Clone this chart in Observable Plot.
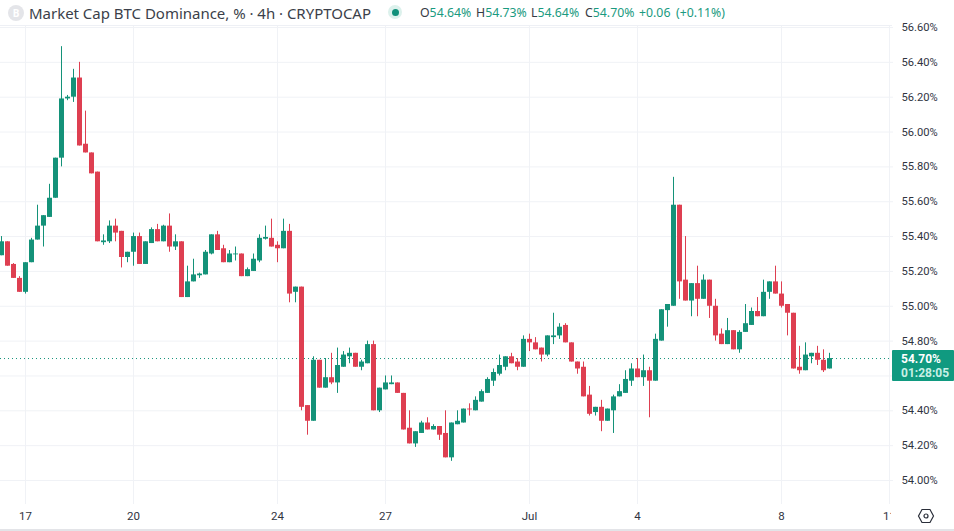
<!DOCTYPE html>
<html><head><meta charset="utf-8">
<script src="https://cdn.jsdelivr.net/npm/d3@7"></script>
<script src="https://cdn.jsdelivr.net/npm/@observablehq/plot@0.6"></script>
<style>
html,body{margin:0;padding:0;background:#fff;width:954px;height:531px;overflow:hidden;font-family:"Noto Sans",sans-serif}
#wrap{position:relative;width:954px;height:531px}
#hdr{position:relative;height:25px;width:892px;border-bottom:1px solid #eef0f5;box-sizing:content-box;color:#363a45;z-index:2}
#hdr span{position:absolute;white-space:nowrap;top:5px;font-size:12.3px;line-height:16px}
#hdr .t{left:29px;top:3px;font-size:15px;line-height:20px;color:#3b3f4a;letter-spacing:-.02px}
#hdr .v{color:#1a9a80}
#logo{position:absolute;left:8px;top:5px;width:16px;height:16px;border-radius:50%;background:#e4e5e9;color:#fff;font:bold 10px/16px "Noto Sans";text-align:center}
#halo{position:absolute;left:388px;top:5px;width:14px;height:14px;border-radius:50%;background:#dcf1ec}
#dot{position:absolute;left:391.5px;top:8.5px;width:7px;height:7px;border-radius:50%;background:#10907a}
#plot{position:absolute;left:0;top:16px}
#price{position:absolute;left:892px;top:350px;width:62px;height:31px;background:#109a80;color:#fff;font:bold 12px/14px Roboto;border-radius:1px}
#price div{padding-left:9px;padding-top:1.5px}
#price div+div{color:#c8f0e6;padding-top:0}
#corner{position:absolute;left:891px;top:505px;width:63px;height:24px;background:#fff}
#corner svg{position:absolute;left:25px;top:1px}
#foot{position:absolute;left:0;top:529px;width:954px;height:2px;background:#e3e4e8}
svg text{font-family:Roboto,sans-serif}
</style></head>
<body><div id="wrap">
<div id="hdr">
<div id="logo">B</div>
<span class="t">Market Cap BTC Dominance, % · 4h · CRYPTOCAP</span>
<div id="halo"></div><div id="dot"></div>
<span style="left:420px">O<b class="v" style="font-weight:400">54.64%</b></span>
<span style="left:476px">H<b class="v" style="font-weight:400">54.73%</b></span>
<span style="left:531px">L<b class="v" style="font-weight:400">54.64%</b></span>
<span style="left:585px">C<b class="v" style="font-weight:400">54.70%</b></span>
<span class="v" style="left:639px">+0.06</span>
<span class="v" style="left:676px">(+0.11%)</span>
</div>
<div id="plot"></div>
<div id="price"><div>54.70%</div><div>01:28:05</div></div>
<div id="corner"><svg width="20" height="20" viewBox="0 0 20 20" fill="none" stroke="#2a2e39" stroke-width="1.2"><path d="M6 3.5h8l3.5 6.5-3.5 6.5H6L2.5 10z"/><circle cx="10" cy="10" r="2"/></svg></div>
<div id="foot"></div>
</div>
<script>
const opens = [55.29,55.37,55.24,55.16,55.08,55.25,55.38,55.46,55.51,55.62,55.85,56.19,56.20,56.31,55.93,55.88,55.77,55.365,55.37,55.46,55.43,55.28,55.31,55.40,55.24,55.36,55.44,55.37,55.46,55.34,55.37,55.05,55.14,55.175,55.18,55.30,55.41,55.33,55.25,55.295,55.30,55.17,55.20,55.26,55.385,55.39,55.35,55.33,55.43,55.08,55.11,54.43,54.34,54.69,54.53,54.59,54.56,54.65,54.71,54.73,54.65,54.67,54.78,54.40,54.52,54.55,54.56,54.50,54.30,54.21,54.27,54.33,54.29,54.31,54.27,54.13,54.32,54.33,54.41,54.40,54.45,54.50,54.57,54.61,54.65,54.71,54.68,54.65,54.81,54.79,54.76,54.72,54.82,54.83,54.89,54.79,54.68,54.65,54.49,54.39,54.42,54.34,54.40,54.48,54.50,54.57,54.64,54.59,54.63,54.57,54.80,54.975,55.00,55.58,55.15,55.03,55.13,55.04,55.15,55.00,54.84,54.78,54.86,54.75,54.85,54.89,54.97,54.94,55.08,55.14,55.07,55.01,54.96,54.65,54.63,54.71,54.73,54.69,54.64];
const highs = [55.40,55.37,55.245,55.17,55.25,55.39,55.58,55.52,55.70,55.85,56.49,56.21,56.36,56.40,56.12,55.88,55.77,55.41,55.49,55.50,55.43,55.31,55.42,55.42,55.37,55.45,55.47,55.465,55.53,55.41,55.37,55.23,55.27,55.19,55.32,55.41,55.43,55.35,55.32,55.34,55.30,55.22,55.30,55.41,55.46,55.50,55.37,55.50,55.47,55.11,55.11,54.43,54.71,54.69,54.70,54.73,54.76,54.74,54.76,54.73,54.69,54.80,54.80,54.53,54.60,54.60,54.56,54.50,54.40,54.28,54.34,54.36,54.32,54.31,54.40,54.33,54.40,54.41,54.44,54.48,54.52,54.59,54.64,54.72,54.71,54.73,54.70,54.83,54.84,54.82,54.76,54.83,54.96,54.90,54.90,54.79,54.68,54.68,54.54,54.42,54.46,54.41,54.49,54.55,54.63,54.67,54.70,54.72,54.65,54.84,54.98,55.01,55.74,55.58,55.40,55.13,55.23,55.18,55.15,55.04,54.87,54.93,54.86,54.86,55.01,54.99,55.05,55.15,55.14,55.23,55.14,55.01,54.96,54.77,54.79,54.73,54.77,54.75,54.73];
const lows = [55.29,55.23,55.16,55.08,55.07,55.25,55.38,55.34,55.51,55.62,55.80,56.18,56.17,55.92,55.88,55.76,55.37,55.35,55.36,55.37,55.22,55.25,55.23,55.24,55.24,55.36,55.37,55.37,55.31,55.32,55.05,55.05,55.14,55.16,55.18,55.295,55.32,55.25,55.25,55.26,55.17,55.17,55.20,55.25,55.38,55.34,55.25,55.33,55.02,55.02,54.40,54.26,54.34,54.53,54.53,54.55,54.50,54.65,54.67,54.65,54.63,54.67,54.40,54.39,54.52,54.55,54.50,54.29,54.21,54.19,54.27,54.29,54.29,54.23,54.13,54.11,54.32,54.33,54.37,54.40,54.45,54.50,54.54,54.60,54.63,54.67,54.63,54.65,54.74,54.75,54.68,54.71,54.78,54.81,54.79,54.68,54.61,54.48,54.37,54.37,54.28,54.34,54.27,54.48,54.50,54.54,54.59,54.54,54.36,54.57,54.80,54.88,55.00,55.04,55.03,54.94,54.94,55.04,54.93,54.80,54.78,54.78,54.75,54.73,54.85,54.89,54.94,54.94,55.04,55.07,54.99,54.83,54.64,54.61,54.63,54.67,54.66,54.62,54.64];
const closes = [55.37,55.23,55.16,55.08,55.25,55.38,55.46,55.52,55.62,55.85,56.19,56.20,56.31,55.92,55.88,55.76,55.37,55.375,55.46,55.42,55.28,55.31,55.40,55.24,55.37,55.44,55.37,55.46,55.34,55.37,55.05,55.14,55.18,55.185,55.31,55.41,55.32,55.25,55.30,55.30,55.17,55.21,55.27,55.39,55.395,55.34,55.33,55.43,55.07,55.11,54.42,54.34,54.69,54.53,54.59,54.56,54.66,54.72,54.73,54.65,54.68,54.78,54.40,54.53,54.56,54.56,54.50,54.29,54.21,54.28,54.33,54.29,54.31,54.26,54.13,54.33,54.34,54.41,54.405,54.46,54.51,54.58,54.62,54.66,54.71,54.67,54.65,54.81,54.79,54.75,54.72,54.83,54.83,54.88,54.79,54.68,54.64,54.48,54.38,54.42,54.34,54.41,54.48,54.51,54.58,54.64,54.59,54.63,54.57,54.81,54.98,55.01,55.58,55.14,55.03,55.13,55.04,55.15,55.00,54.83,54.78,54.86,54.75,54.85,54.90,54.97,54.94,55.08,55.14,55.07,55.00,54.96,54.64,54.63,54.72,54.73,54.69,54.63,54.70];

const gridValues = [54,54.2,54.4,54.6,54.8,55,55.2,55.4,55.6,55.8,56,56.2,56.4,56.6];
const priceLabels = [54,54.2,54.4,54.8,55,55.2,55.4,55.6,55.8,56,56.2,56.4,56.6];
const timeTicks = [4,22,46,64,88,106,130,148];
const timeLabels = ["17","20","24","27","Jul","4","8","11"];
const lastClose = 54.70;
const up = "#149279", down = "#de3f51", grid = "#f0f2f6";

const candles = opens.map((o,i)=>({i,o,h:highs[i],l:lows[i],c:closes[i],col:closes[i]>=o?up:down}));

const chart = Plot.plot({
  width:954,height:513,marginTop:10,marginLeft:0,marginRight:61,marginBottom:25,
  style:{background:"transparent",fontFamily:"Roboto,sans-serif"},
  x:{type:"linear",domain:[0,148],range:[1,889]},
  y:{type:"linear",domain:[54,56.6],range:[464,11]},
  marks:[
    Plot.gridX(timeTicks,{stroke:grid,strokeOpacity:1}),
    Plot.ruleY(gridValues,{stroke:grid}),
    Plot.ruleY([lastClose],{stroke:up,strokeDasharray:"1 3"}),
    Plot.ruleX(candles,{x:"i",y1:"l",y2:"h",stroke:"col",strokeWidth:1}),
    Plot.ruleX(candles,{x:"i",y1:"o",y2:"c",stroke:"col",strokeWidth:5}),
    Plot.axisX(timeTicks,{anchor:"bottom",tickSize:0,tickPadding:7,label:null,fontSize:11.5,fill:"#30343f",
      tickFormat:d=>timeLabels[timeTicks.indexOf(d)]}),
    Plot.axisY(priceLabels,{anchor:"right",tickSize:0,tickPadding:8,label:null,fontSize:11.2,fill:"#30343f",
      tickFormat:d=>d.toFixed(2)+"%"})
  ]
});
document.getElementById("plot").appendChild(chart);
</script>
</body></html>
